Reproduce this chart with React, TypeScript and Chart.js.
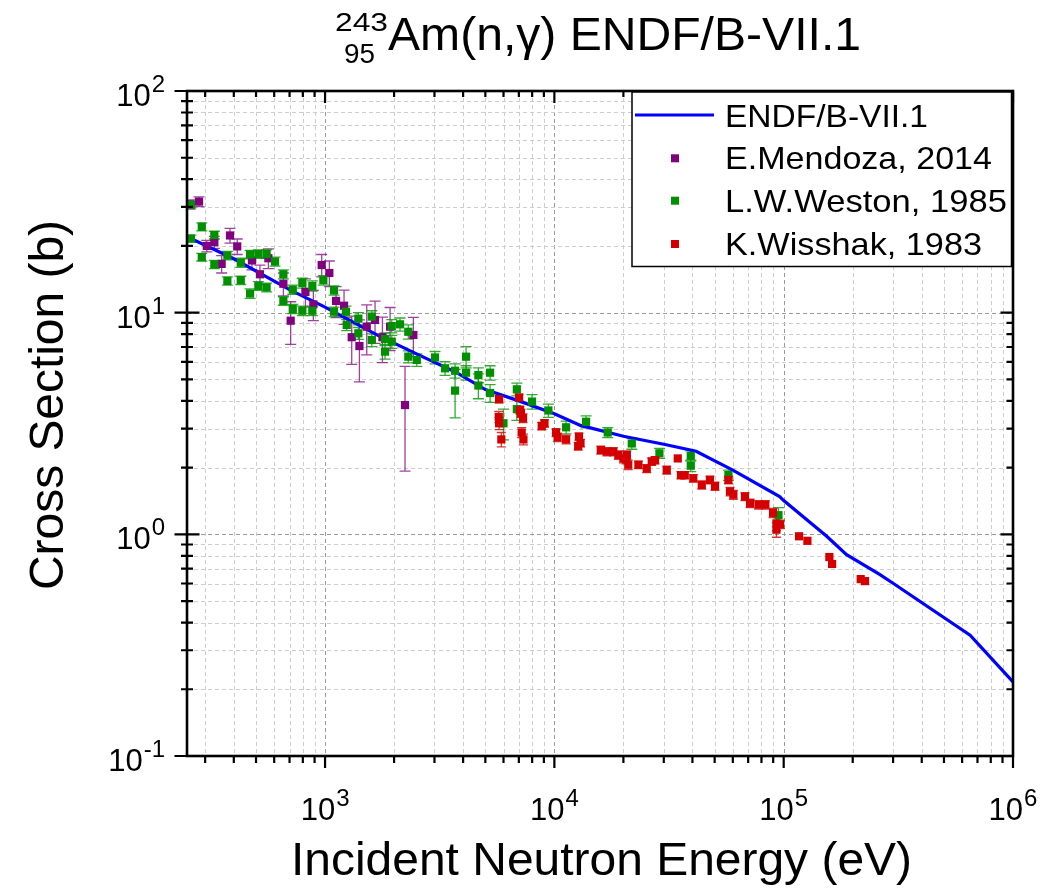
import React, { useEffect, useRef } from 'react';
import { Chart, registerables } from 'chart.js';

Chart.register(...registerables);

// ---------- data ----------
const endfE = [250, 400, 700, 1000, 1700, 2600, 3700, 5000, 7000, 10000, 13000, 20000, 30000, 41500, 60000, 96000, 100000, 154000, 188000, 262000, 301000, 650000, 1000000];
const endfXS = [22.0, 17.5, 12.7, 10.6, 7.9, 6.4, 5.4, 4.5, 4.0, 3.5, 3.1, 2.77, 2.55, 2.37, 1.95, 1.48, 1.42, 0.98, 0.81, 0.66, 0.6, 0.351, 0.216];

const mendozaE = [258, 282, 305, 329, 354, 385, 414, 480, 520, 566, 658, 708, 821, 889, 967, 1044, 1117, 1210, 1307, 1412, 1520, 1652, 1779, 1921, 2232, 2427];
const mendozaXS = [30.8, 31.7, 20.0, 20.8, 16.6, 22.3, 19.9, 17.2, 14.9, 17.6, 13.5, 9.2, 12.4, 10.9, 16.4, 15.1, 11.3, 10.75, 7.75, 7.07, 8.65, 9.27, 7.75, 8.65, 3.83, 7.93];
const mendozaErr = [1.5, 1.6, 1.2, 1.3, 1.5, 1.7, 1.6, 1.6, 1.5, 1.8, 1.6, 2.0, 1.8, 1.7, 1.9, 2.0, 1.8, 1.9, 1.9, 2.2, 2.2, 2.0, 1.8, 1.9, 1.9, 1.6];

const westonE = [260, 260, 290, 290, 329, 329, 375, 375, 429, 429, 471, 471, 512, 556, 512, 556, 605, 658, 723, 658, 723, 796, 796, 880, 880, 983, 1094, 1094, 1234, 1243, 1397, 1397, 1599, 1599, 1826, 1826, 1954, 2123, 1954, 2307, 2307, 2512, 3017, 3336, 3690, 3690, 4121, 4121, 4663, 4663, 5244, 5244, 5998, 6860, 6860, 7990, 9416, 11250, 13750, 17090, 21760, 28710, 39340, 39340, 57410, 94900];
const westonXS = [30.7, 21.6, 24.4, 17.8, 22.4, 16.5, 18.1, 13.9, 16.8, 14.0, 18.3, 12.2, 18.4, 18.4, 13.2, 13.0, 17.0, 14.9, 12.7, 11.3, 10.4, 13.6, 10.2, 13.2, 10.2, 14.0, 12.6, 10.1, 10.1, 8.8, 9.4, 8.07, 9.6, 7.53, 7.6, 6.67, 8.7, 8.86, 7.4, 8.2, 6.33, 6.12, 6.28, 5.61, 5.47, 4.45, 6.33, 5.36, 5.23, 4.69, 5.36, 4.34, 3.17, 4.51, 3.67, 3.97, 3.62, 3.04, 3.22, 2.88, 2.57, 2.32, 2.26, 2.04, 1.85, 1.22];
const westonErr = [1.0, 0.8, 1.0, 0.7, 0.9, 0.7, 0.8, 0.6, 0.8, 0.6, 0.8, 0.6, 0.8, 0.8, 0.6, 0.6, 0.8, 0.7, 0.6, 0.5, 0.5, 0.7, 0.5, 0.7, 0.5, 0.7, 0.6, 0.5, 0.6, 0.5, 0.6, 0.5, 0.6, 0.5, 0.5, 0.5, 0.6, 0.6, 0.5, 0.6, 0.4, 0.4, 0.4, 0.4, 0.4, 1.1, 0.7, 0.4, 0.4, 0.6, 0.4, 0.4, 0.5, 0.3, 0.4, 0.3, 0.25, 0.2, 0.2, 0.15, 0.15, 0.12, 0.12, 0.12, 0.1, 0.1];

const wisshakE = [5740, 5720, 5740, 5871, 7017, 7080, 7150, 7300, 7200, 7330, 8810, 9055, 10170, 10330, 11250, 12800, 13000, 12700, 15940, 16930, 18080, 19010, 20000, 20550, 20700, 21000, 23250, 25280, 26590, 27480, 30900, 34520, 35650, 37020, 40360, 43930, 47690, 50180, 57410, 58340, 60340, 67790, 71340, 77690, 83190, 89870, 92980, 92980, 96540, 116700, 126900, 158200, 162600, 216700, 226300];
const wisshakXS = [4.07, 3.39, 3.17, 2.68, 4.14, 3.64, 3.52, 3.34, 2.88, 2.68, 3.08, 3.17, 2.88, 2.74, 2.68, 2.76, 2.58, 2.5, 2.4, 2.36, 2.36, 2.28, 2.2, 2.18, 2.28, 2.06, 2.06, 1.98, 2.13, 2.16, 1.95, 2.2, 1.85, 1.85, 1.79, 1.67, 1.76, 1.65, 1.76, 1.56, 1.51, 1.48, 1.38, 1.36, 1.36, 1.25, 1.12, 1.05, 1.11, 0.98, 0.935, 0.79, 0.735, 0.628, 0.615];
const wisshakErr = [0.15, 0.2, 0.2, 0.2, 0.15, 0.15, 0.15, 0.15, 0.15, 0.15, 0.12, 0.12, 0.12, 0.12, 0.12, 0.1, 0.1, 0.1, 0.1, 0.1, 0.1, 0.1, 0.1, 0.1, 0.1, 0.1, 0.08, 0.08, 0.08, 0.08, 0.08, 0, 0.07, 0.07, 0.07, 0.07, 0.07, 0.07, 0.07, 0.07, 0.07, 0.06, 0.06, 0.06, 0.06, 0.06, 0.08, 0.08, 0.05, 0, 0, 0, 0, 0, 0];

const xMajor = [1e3, 1e4, 1e5, 1e6];
const xMajorExp = ['3', '4', '5', '6'];
const yMajor = [0.1, 1, 10, 100];
const yMajorExp = ['-1', '0', '1', '2'];

const seriesNames = ['ENDF/B-VII.1', 'E.Mendoza, 2014', 'L.W.Weston, 1985', 'K.Wisshak, 1983'];
const seriesColors = ['#0000ff', '#800080', '#009000', '#d40000'];

const X_MIN = 250, X_MAX = 1e6, Y_MIN = 0.1, Y_MAX = 100;

const FONT = '"Liberation Sans", Arial, Helvetica, sans-serif';

function pts(xs: number[], ys: number[]) {
  return xs.map((x, i) => ({ x, y: ys[i] }));
}

function fitText(ctx: CanvasRenderingContext2D, text: string, x: number, y: number, size: number, width: number | null, align: 'left' | 'center' | 'right' = 'left') {
  ctx.save();
  ctx.font = `${size}px ${FONT}`;
  const w = ctx.measureText(text).width;
  const s = width ? width / w : 1;
  ctx.translate(x, y);
  ctx.scale(s, 1);
  ctx.textAlign = 'left';
  ctx.textBaseline = 'alphabetic';
  let dx = 0;
  if (align === 'right') dx = -w;
  if (align === 'center') dx = -w / 2;
  ctx.fillStyle = '#000';
  ctx.fillText(text, dx, 0);
  ctx.restore();
}

function logValues(min: number, max: number) {
  const out: { v: number; major: boolean }[] = [];
  const e0 = Math.floor(Math.log10(min));
  const e1 = Math.ceil(Math.log10(max));
  for (let e = e0; e <= e1; e++) {
    for (let k = 1; k <= 9; k++) {
      const v = k * Math.pow(10, e);
      if (v >= min * 0.9999 && v <= max * 1.0001) out.push({ v, major: k === 1 });
    }
  }
  return out;
}

const errorSets = [
  { xs: mendozaE, ys: mendozaXS, err: mendozaErr, color: 'rgba(128,0,128,0.75)', cap: 5.5 },
  { xs: westonE, ys: westonXS, err: westonErr, color: 'rgba(0,150,0,0.8)', cap: 5.5 },
  { xs: wisshakE, ys: wisshakXS, err: wisshakErr, color: 'rgba(212,0,0,0.8)', cap: 4.5 },
];

const framePlugin = {
  id: 'originFrame',
  beforeDatasetsDraw(chart: any) {
    const ctx: CanvasRenderingContext2D = chart.ctx;
    const { left, right, top, bottom } = chart.chartArea;
    const xs = chart.scales.x;
    const ys = chart.scales.y;
    ctx.save();
    ctx.lineWidth = 1;
    ctx.setLineDash([4, 3]);
    for (const t of logValues(X_MIN, X_MAX)) {
      const px = Math.round(xs.getPixelForValue(t.v)) + 0.5;
      if (px <= left + 1 || px >= right - 1) continue;
      ctx.strokeStyle = t.major ? '#9a9a9a' : '#cdcdcd';
      ctx.beginPath();
      ctx.moveTo(px, top);
      ctx.lineTo(px, bottom);
      ctx.stroke();
    }
    for (const t of logValues(Y_MIN, Y_MAX)) {
      const py = Math.round(ys.getPixelForValue(t.v)) + 0.5;
      if (py <= top + 1 || py >= bottom - 1) continue;
      ctx.strokeStyle = t.major ? '#9a9a9a' : '#cdcdcd';
      ctx.beginPath();
      ctx.moveTo(left, py);
      ctx.lineTo(right, py);
      ctx.stroke();
    }
    ctx.setLineDash([]);
    // error bars
    ctx.beginPath();
    ctx.rect(left, top, right - left, bottom - top);
    ctx.clip();
    ctx.lineWidth = 1.3;
    for (const s of errorSets) {
      ctx.strokeStyle = s.color;
      for (let i = 0; i < s.xs.length; i++) {
        const e = s.err[i];
        if (!e) continue;
        const px = xs.getPixelForValue(s.xs[i]);
        const lo = Math.max(s.ys[i] - e, Y_MIN * 0.5);
        const pHi = ys.getPixelForValue(s.ys[i] + e);
        const pLo = ys.getPixelForValue(lo);
        ctx.beginPath();
        ctx.moveTo(px, pHi);
        ctx.lineTo(px, pLo);
        ctx.moveTo(px - s.cap, pHi);
        ctx.lineTo(px + s.cap, pHi);
        ctx.moveTo(px - s.cap, pLo);
        ctx.lineTo(px + s.cap, pLo);
        ctx.stroke();
      }
    }
    ctx.restore();
  },
  afterDatasetsDraw(chart: any) {
    const ctx: CanvasRenderingContext2D = chart.ctx;
    const { left, right, top, bottom } = chart.chartArea;
    const xs = chart.scales.x;
    const ys = chart.scales.y;
    ctx.save();
    // frame
    ctx.strokeStyle = '#000';
    ctx.lineWidth = 2.6;
    ctx.strokeRect(left, top, right - left, bottom - top);
    ctx.lineWidth = 2.2;
    ctx.beginPath();
    for (const t of logValues(X_MIN, X_MAX)) {
      const px = xs.getPixelForValue(t.v);
      const L = t.major ? 12 : 7;
      const Li = t.major ? 12 : 6;
      ctx.moveTo(px, bottom);
      ctx.lineTo(px, bottom + L);
      ctx.moveTo(px, top);
      ctx.lineTo(px, top + Li);
    }
    for (const t of logValues(Y_MIN, Y_MAX)) {
      const py = ys.getPixelForValue(t.v);
      const L = t.major ? 12.5 : 6;
      ctx.moveTo(left - L, py);
      ctx.lineTo(left + L, py);
      const Li = t.major ? 12.5 : 6.5;
      ctx.moveTo(right, py);
      ctx.lineTo(right - Li, py);
    }
    ctx.stroke();

    // tick labels
    ctx.fillStyle = '#000';
    const baseSize = 31, supSize = 24;
    xMajor.forEach((v, i) => {
      const px = xs.getPixelForValue(v);
      ctx.font = `${baseSize}px ${FONT}`;
      const w10 = ctx.measureText('10').width;
      ctx.font = `${supSize}px ${FONT}`;
      const ws = ctx.measureText(xMajorExp[i]).width;
      const start = px - (w10 + ws + 1) / 2;
      fitText(ctx, '10', start, bottom + 64, baseSize, null);
      fitText(ctx, xMajorExp[i], start + w10 + 1, bottom + 50, supSize, null);
    });
    yMajor.forEach((v, i) => {
      const py = ys.getPixelForValue(v);
      ctx.font = `${supSize}px ${FONT}`;
      const ws = ctx.measureText(yMajorExp[i]).width;
      const rightEdge = 165;
      fitText(ctx, yMajorExp[i], rightEdge, py + 1, supSize, null, 'right');
      fitText(ctx, '10', rightEdge - ws - 1, py + 15, baseSize, null, 'right');
    });

    // axis titles
    fitText(ctx, 'Incident Neutron Energy (eV)', 291, 875, 47, 621);
    ctx.save();
    ctx.translate(63, 405);
    ctx.rotate(-Math.PI / 2);
    fitText(ctx, 'Cross Section (b)', 0, 0, 48, 370, 'center');
    ctx.restore();

    // title
    fitText(ctx, '243', 335, 31, 26, 53);
    fitText(ctx, '95', 344, 63, 28, 31);
    fitText(ctx, 'Am(n,\u03b3) ENDF/B-VII.1', 388, 50, 46, 473);

    // legend
    const lx0 = 632, ly0 = 92, lx1 = 1011.5, ly1 = 266.5;
    ctx.fillStyle = '#fff';
    ctx.fillRect(lx0, ly0, lx1 - lx0, ly1 - ly0);
    ctx.strokeStyle = '#000';
    ctx.lineWidth = 1.5;
    ctx.strokeRect(lx0, ly0, lx1 - lx0, ly1 - ly0);
    const rowBase = [126.7, 169.3, 211.7, 255];
    const textWidths = [203, 267, 282, 257];
    ctx.strokeStyle = seriesColors[0];
    ctx.lineWidth = 3;
    ctx.beginPath();
    ctx.moveTo(635, 115);
    ctx.lineTo(714, 115);
    ctx.stroke();
    for (let i = 1; i < 4; i++) {
      ctx.fillStyle = seriesColors[i];
      const cy = rowBase[i] - 11;
      ctx.fillRect(671, cy - 4, 8, 8);
    }
    for (let i = 0; i < 4; i++) {
      fitText(ctx, seriesNames[i], 725, rowBase[i], 31.5, textWidths[i]);
    }
    ctx.restore();
  },
};

export default function App() {
  const ref = useRef<HTMLCanvasElement | null>(null);
  useEffect(() => {
    if (!ref.current) return;
    const pointCommon = { pointStyle: 'rect', pointRadius: 5.8, pointBorderWidth: 0, showLine: false };
    const chart = new Chart(ref.current, {
      type: 'scatter',
      data: {
        datasets: [
          {
            label: seriesNames[0],
            data: pts(endfE, endfXS),
            showLine: true,
            borderColor: seriesColors[0],
            borderWidth: 3.2,
            pointRadius: 0,
            tension: 0,
            order: 4,
          },
          { label: seriesNames[1], data: pts(mendozaE, mendozaXS), backgroundColor: seriesColors[1], borderColor: seriesColors[1], order: 3, ...pointCommon },
          { label: seriesNames[2], data: pts(westonE, westonXS), backgroundColor: seriesColors[2], borderColor: seriesColors[2], order: 2, ...pointCommon },
          { label: seriesNames[3], data: pts(wisshakE, wisshakXS), backgroundColor: seriesColors[3], borderColor: seriesColors[3], order: 1, ...pointCommon },
        ] as any,
      },
      options: {
        animation: false,
        responsive: false,
        devicePixelRatio: 1,
        events: [],
        layout: { padding: { left: 187, right: 38, top: 91, bottom: 137 } },
        plugins: { legend: { display: false }, tooltip: { enabled: false }, title: { display: false } },
        scales: {
          x: { type: 'logarithmic', min: X_MIN, max: X_MAX, bounds: 'data', display: false },
          y: { type: 'logarithmic', min: Y_MIN, max: Y_MAX, bounds: 'data', display: false },
        },
      } as any,
      plugins: [framePlugin],
    });
    return () => chart.destroy();
  }, []);
  return (
    <div style={{ position: 'absolute', left: 0, top: 0, width: 1051, height: 893, background: '#fff' }}>
      <canvas ref={ref} width={1051} height={893} style={{ display: 'block', width: 1051, height: 893 }} />
    </div>
  );
}
